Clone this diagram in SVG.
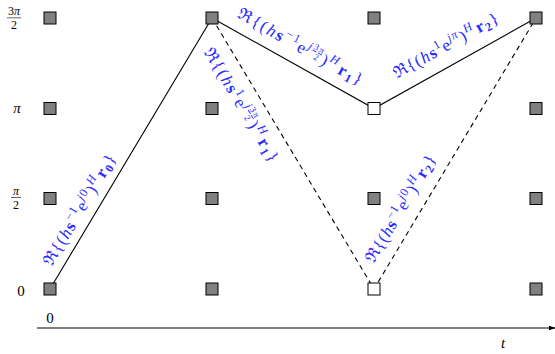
<svg xmlns="http://www.w3.org/2000/svg" width="555" height="354" viewBox="0 0 555 354">
<style>
.sq{fill:#808080;stroke:#000;stroke-width:1}
.sqw{fill:#fff;stroke:#000;stroke-width:1}
.ax{font-family:"Liberation Serif","DejaVu Serif",serif;font-size:15px;fill:#000}
.fx{font-family:"Liberation Serif","DejaVu Serif",serif;font-size:12px;fill:#000}
.lb{font-family:"Liberation Serif","DejaVu Serif",serif;font-size:17px;fill:#2a2aff}
.i{font-style:italic}
.b{font-weight:bold}
.sp{font-size:12px}
.fr{font-size:9px}
.solid{stroke:#000;stroke-width:1.1;fill:none}
.dash{stroke:#000;stroke-width:1.1;fill:none;stroke-dasharray:5,4}
</style>
<defs>
<marker id="arr" viewBox="0 0 10 10" refX="9" refY="5" markerWidth="7" markerHeight="7" orient="auto" markerUnits="userSpaceOnUse">
<path d="M0,1.5 L10,5 L0,8.5 Z" fill="#000"/>
</marker>
</defs>
<g id="axis">
<line x1="37" y1="328" x2="555" y2="328" stroke="#000" stroke-width="1.2" marker-end="url(#arr)"/>
<text class="ax i" x="503" y="348" text-anchor="middle">t</text>
<text class="ax" x="50" y="323" text-anchor="middle">0</text>
<text class="ax" x="21" y="296" text-anchor="middle">0</text>
<text class="ax i" x="17" y="113" text-anchor="middle">π</text>
<g>
<text class="fx i" x="16" y="194.5" text-anchor="middle">π</text>
<line x1="11" y1="197.5" x2="21" y2="197.5" stroke="#000" stroke-width="0.6"/>
<text class="fx" x="16" y="208.5" text-anchor="middle">2</text>
</g>
<g>
<text class="fx" x="14" y="15" text-anchor="middle">3<tspan class="i">π</tspan></text>
<line x1="7" y1="17.8" x2="21" y2="17.8" stroke="#000" stroke-width="0.6"/>
<text class="fx" x="14" y="29" text-anchor="middle">2</text>
</g>
</g>
<g id="connectors">
<path class="solid" d="M50,289 L212,18 L374,108.5 L536,18"/>
<path class="dash" d="M212,18 L374,289 L536,18"/>
</g>
<g id="nodes">
<g id="n00"><rect class="sq" x="44" y="283" width="12" height="12"/></g>
<g id="n01"><rect class="sq" x="44" y="192.5" width="12" height="12"/></g>
<g id="n02"><rect class="sq" x="44" y="102.5" width="12" height="12"/></g>
<g id="n03"><rect class="sq" x="44" y="12" width="12" height="12"/></g>
<g id="n10"><rect class="sq" x="206" y="283" width="12" height="12"/></g>
<g id="n11"><rect class="sq" x="206" y="192.5" width="12" height="12"/></g>
<g id="n12"><rect class="sq" x="206" y="102.5" width="12" height="12"/></g>
<g id="n13"><rect class="sq" x="206" y="12" width="12" height="12"/></g>
<g id="n20"><rect class="sqw" x="368" y="283" width="12" height="12"/></g>
<g id="n21"><rect class="sq" x="368" y="192.5" width="12" height="12"/></g>
<g id="n22"><rect class="sqw" x="368" y="102.5" width="12" height="12"/></g>
<g id="n23"><rect class="sq" x="368" y="12" width="12" height="12"/></g>
<g id="n30"><rect class="sq" x="530" y="283" width="12" height="12"/></g>
<g id="n31"><rect class="sq" x="530" y="192.5" width="12" height="12"/></g>
<g id="n32"><rect class="sq" x="530" y="102.5" width="12" height="12"/></g>
<g id="n33"><rect class="sq" x="530" y="12" width="12" height="12"/></g>
</g>
<g id="labels">
<text class="lb" transform="translate(84.3,212.5) rotate(-59.2)" text-anchor="middle" textLength="126" lengthAdjust="spacing">ℜ{(<tspan class="i">h</tspan><tspan class="b">s</tspan><tspan class="sp" dy="-7">−1</tspan><tspan dy="7">e</tspan><tspan class="sp i" dy="-7">j</tspan><tspan class="sp">0</tspan><tspan dy="7">)</tspan><tspan class="sp i" dy="-7">H</tspan><tspan class="b" dy="7" dx="2">r</tspan><tspan class="sp b" dy="3">0</tspan><tspan dy="-3">}</tspan></text>
<text class="lb" transform="translate(236.7,107.5) rotate(59.2)" text-anchor="middle" textLength="130" lengthAdjust="spacing">ℜ{(<tspan class="i">h</tspan><tspan class="b">s</tspan><tspan class="sp" dy="-7">1</tspan><tspan dy="7">e</tspan><tspan class="sp i" dy="-7">j</tspan><tspan class="fr" dy="-3" text-decoration="underline">3π</tspan><tspan class="fr" dx="-8" dy="9">2</tspan><tspan dx="2" dy="1">)</tspan><tspan class="sp i" dy="-7">H</tspan><tspan class="b" dy="7" dx="2">r</tspan><tspan class="sp b" dy="3">1</tspan><tspan dy="-3">}</tspan></text>
<text class="lb" transform="translate(297.6,51.4) rotate(29.05)" text-anchor="middle" textLength="140" lengthAdjust="spacing">ℜ{(<tspan class="i">h</tspan><tspan class="b">s</tspan><tspan class="sp" dy="-7">−1</tspan><tspan dy="7">e</tspan><tspan class="sp i" dy="-7">j</tspan><tspan class="fr" dy="-3" text-decoration="underline">3π</tspan><tspan class="fr" dx="-8" dy="9">2</tspan><tspan dx="2" dy="1">)</tspan><tspan class="sp i" dy="-7">H</tspan><tspan class="b" dy="7" dx="2">r</tspan><tspan class="sp b" dy="3">1</tspan><tspan dy="-3">}</tspan></text>
<text class="lb" transform="translate(448.4,50.4) rotate(-29.05)" text-anchor="middle" textLength="118" lengthAdjust="spacing">ℜ{(<tspan class="i">h</tspan><tspan class="b">s</tspan><tspan class="sp" dy="-7">1</tspan><tspan dy="7">e</tspan><tspan class="sp i" dy="-7">jπ</tspan><tspan dy="7">)</tspan><tspan class="sp i" dy="-7">H</tspan><tspan class="b" dy="7" dx="2">r</tspan><tspan class="sp b" dy="3">2</tspan><tspan dy="-3">}</tspan></text>
<text class="lb" transform="translate(405.3,211.5) rotate(-59.2)" text-anchor="middle" textLength="122" lengthAdjust="spacing">ℜ{(<tspan class="i">h</tspan><tspan class="b">s</tspan><tspan class="sp" dy="-7">−1</tspan><tspan dy="7">e</tspan><tspan class="sp i" dy="-7">j</tspan><tspan class="sp">0</tspan><tspan dy="7">)</tspan><tspan class="sp i" dy="-7">H</tspan><tspan class="b" dy="7" dx="2">r</tspan><tspan class="sp b" dy="3">2</tspan><tspan dy="-3">}</tspan></text>
</g>
</svg>
